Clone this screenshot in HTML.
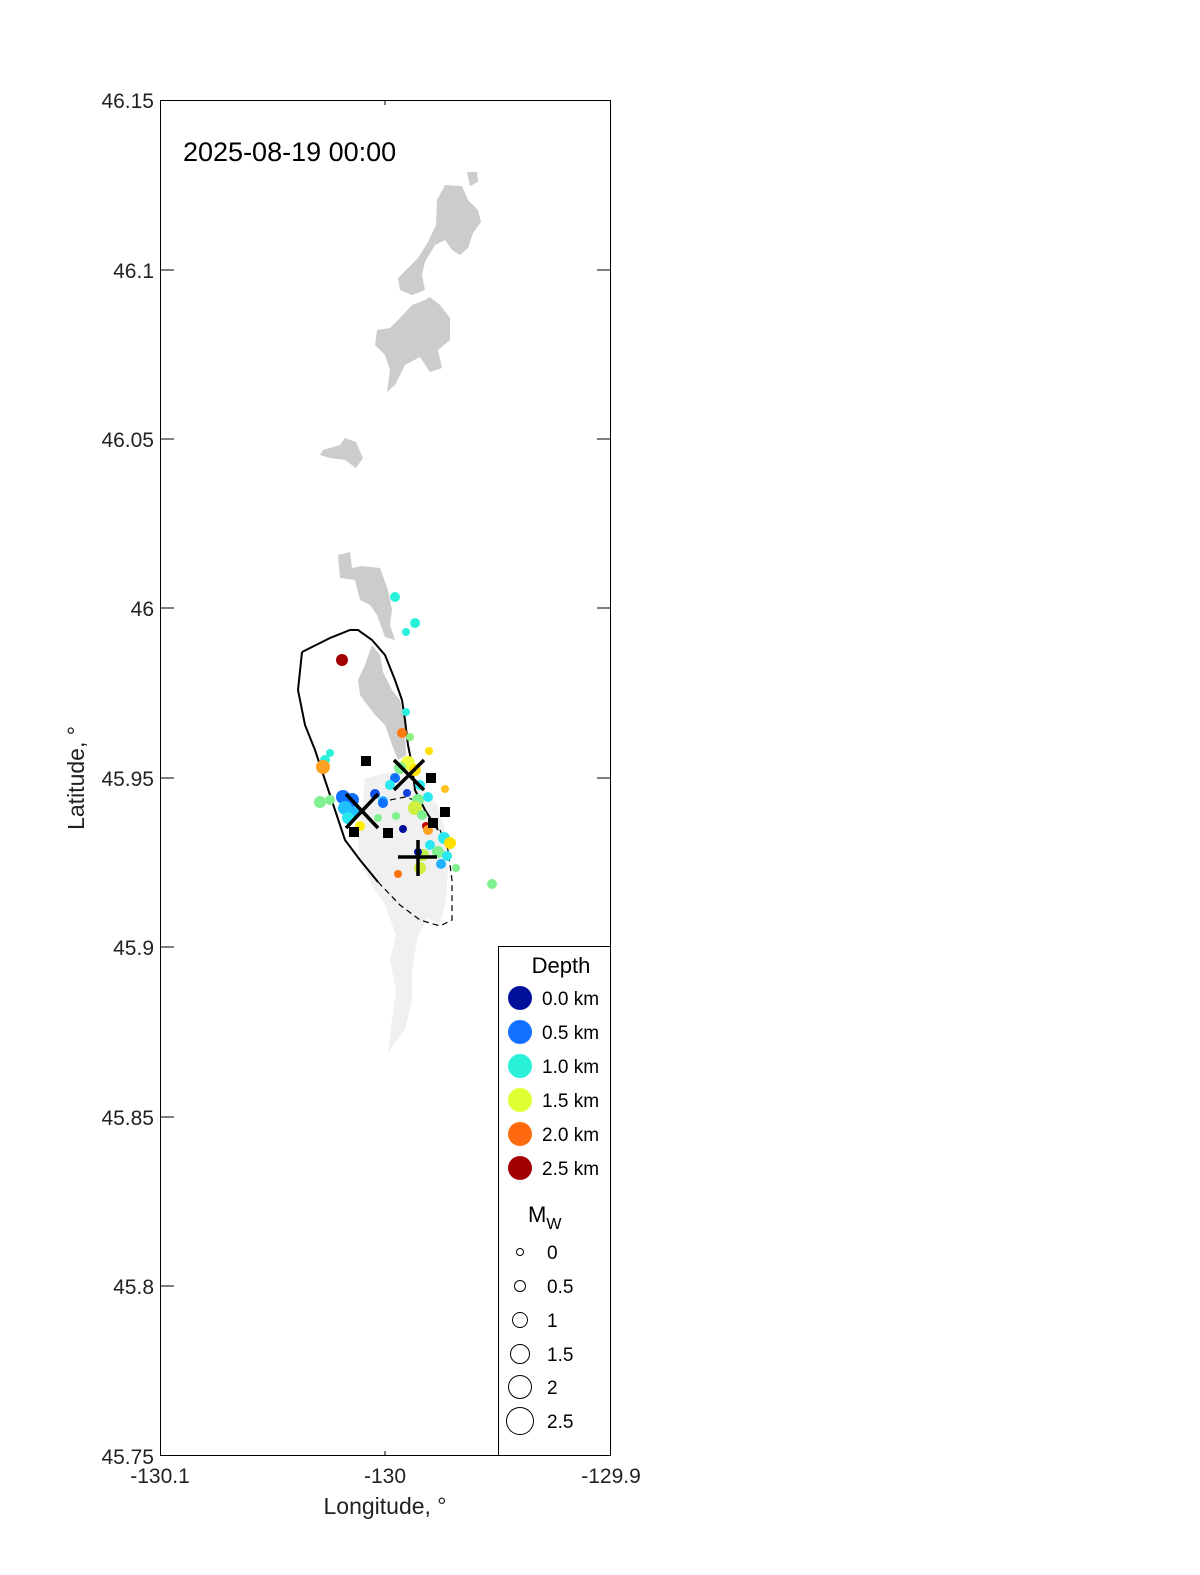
<!DOCTYPE html>
<html><head><style>body{margin:0;background:#fff}svg{display:block}text{font-family:"Liberation Sans",sans-serif}</style></head><body>
<svg width="1200" height="1575" viewBox="0 0 1200 1575" xmlns="http://www.w3.org/2000/svg">
<rect width="1200" height="1575" fill="#fff"/>
<g fill="#f0f0f0">
<path d="M365,778 L392,772 L420,785 L438,805 L445,830 L448,868 L446,900 L440,925 L428,918 L418,935 L412,970 L412,1000 L405,1030 L388,1052 L392,1020 L396,990 L390,960 L396,935 L385,905 L372,885 L360,862 L358,835 L362,808 Z"/>
</g>
<g fill="#cccccc">
<path d="M467,172 L477,172 L478,182 L470,186 Z"/>
<path d="M445,185 L462,186 L468,200 L478,210 L481,222 L473,233 L468,248 L460,255 L452,250 L445,240 L435,245 L425,262 L422,275 L425,290 L412,295 L400,290 L398,278 L408,268 L418,258 L428,242 L436,225 L437,200 Z"/>
<path d="M430,297 L440,305 L450,318 L450,340 L438,350 L442,368 L430,372 L420,357 L405,365 L395,385 L387,392 L390,370 L385,355 L375,345 L377,330 L390,328 L400,318 L412,305 L425,300 Z"/>
<path d="M323,450 L340,445 L345,438 L356,442 L363,458 L356,468 L345,460 L330,458 L320,455 Z"/>
<path d="M338,555 L350,552 L352,568 L362,566 L380,568 L388,590 L392,610 L390,625 L395,640 L385,637 L377,615 L370,605 L360,600 L355,580 L340,578 Z"/>
<path d="M372,645 L380,655 L383,672 L392,690 L400,700 L405,725 L406,755 L398,760 L392,745 L385,725 L375,715 L360,695 L358,680 L365,665 Z"/>
</g>
<path d="M302,652 L330,638 L350,630 L358,630 L372,640 L385,655 L395,680 L402,700 L405,720 L408,745 L412,765 L415,790 L425,810 L438,830" fill="none" stroke="#000" stroke-width="2"/>
<path d="M302,652 L298,690 L305,725 L315,750 L325,780 L335,810 L345,840 L360,860 L378,882" fill="none" stroke="#000" stroke-width="2"/>
<path d="M378,882 L400,905 L420,920 L440,926 L452,920 L452,880 L448,850 L440,830 M390,800 L405,797 L420,802" fill="none" stroke="#000" stroke-width="1.2" stroke-dasharray="6,4"/>
<g>
<circle cx="395" cy="597" r="5" fill="#29f0d8"/>
<circle cx="415" cy="623" r="5" fill="#29f0d8"/>
<circle cx="406" cy="632" r="4" fill="#29f0d8"/>
<circle cx="342" cy="660" r="6" fill="#a00000"/>
<circle cx="406" cy="712" r="4" fill="#29f0d8"/>
<circle cx="402" cy="733" r="5" fill="#ff7a10"/>
<circle cx="410" cy="737" r="4" fill="#8ef080"/>
<circle cx="429" cy="751" r="4" fill="#ffe000"/>
<circle cx="330" cy="753" r="4" fill="#29f0d8"/>
<circle cx="325" cy="760" r="5" fill="#29f0d8"/>
<circle cx="323" cy="767" r="7" fill="#ffa020"/>
<circle cx="408" cy="763" r="7" fill="#f0ff40"/>
<circle cx="400" cy="768" r="6" fill="#80f090"/>
<circle cx="415" cy="770" r="6" fill="#ffe000"/>
<circle cx="395" cy="778" r="5" fill="#1070ff"/>
<circle cx="390" cy="785" r="5" fill="#29e8f0"/>
<circle cx="420" cy="785" r="5" fill="#29e8f0"/>
<circle cx="445" cy="789" r="4" fill="#ffc020"/>
<circle cx="407" cy="793" r="4" fill="#1040e0"/>
<circle cx="383" cy="801" r="5" fill="#20c0ff"/>
<circle cx="418" cy="800" r="6" fill="#80f090"/>
<circle cx="428" cy="797" r="5" fill="#29e8f0"/>
<circle cx="320" cy="802" r="6" fill="#80f090"/>
<circle cx="330" cy="800" r="5" fill="#80f090"/>
<circle cx="343" cy="797" r="7" fill="#1070ff"/>
<circle cx="352" cy="800" r="7" fill="#1070ff"/>
<circle cx="345" cy="808" r="7" fill="#20c0ff"/>
<circle cx="355" cy="812" r="6" fill="#20c0ff"/>
<circle cx="348" cy="818" r="6" fill="#29e8f0"/>
<circle cx="375" cy="794" r="5" fill="#1050f0"/>
<circle cx="383" cy="803" r="5" fill="#1070ff"/>
<circle cx="415" cy="808" r="7" fill="#d0f040"/>
<circle cx="422" cy="815" r="5" fill="#80f090"/>
<circle cx="433" cy="823" r="4" fill="#29e8f0"/>
<circle cx="396" cy="816" r="4" fill="#80f090"/>
<circle cx="378" cy="818" r="4" fill="#80f090"/>
<circle cx="360" cy="826" r="5" fill="#ffee00"/>
<circle cx="403" cy="829" r="4" fill="#00109a"/>
<circle cx="426" cy="826" r="4" fill="#c00000"/>
<circle cx="428" cy="830" r="5" fill="#ffa020"/>
<circle cx="444" cy="838" r="6" fill="#29e8f0"/>
<circle cx="450" cy="843" r="6" fill="#ffe000"/>
<circle cx="430" cy="845" r="5" fill="#29e8f0"/>
<circle cx="438" cy="852" r="6" fill="#80f090"/>
<circle cx="447" cy="856" r="5" fill="#29e8f0"/>
<circle cx="423" cy="855" r="6" fill="#c0f040"/>
<circle cx="418" cy="852" r="4" fill="#00109a"/>
<circle cx="420" cy="868" r="6" fill="#d0f040"/>
<circle cx="441" cy="864" r="5" fill="#20b0ff"/>
<circle cx="456" cy="868" r="4" fill="#80f090"/>
<circle cx="398" cy="874" r="4" fill="#ff7010"/>
<circle cx="492" cy="884" r="5" fill="#80f090"/>
</g>
<g fill="#000">
<rect x="361" y="756" width="10" height="10"/>
<rect x="426" y="773" width="10" height="10"/>
<rect x="440" y="807" width="10" height="10"/>
<rect x="383" y="828" width="10" height="10"/>
<rect x="349" y="827" width="10" height="10"/>
<rect x="428" y="818" width="10" height="10"/>
</g>
<g stroke="#000" stroke-width="3.5">
<path d="M346,794 L378,828 M378,794 L346,828"/>
<path d="M394,760 L424,790 M424,760 L394,790"/>
<path d="M398,857 L437,857 M418,840 L418,876"/>
</g>
<rect x="160.5" y="100.5" width="450" height="1355" fill="none" stroke="#000" stroke-width="1"/>
<g stroke="#000" stroke-width="1">
<path d="M160,270 h14 M160,439 h14 M160,608 h14 M160,778 h14 M160,947 h14 M160,1117 h14 M160,1286 h14"/>
<path d="M611,270 h-14 M611,439 h-14 M611,608 h-14 M611,778 h-14 M611,947 h-14 M611,1117 h-14 M611,1286 h-14"/>
<path d="M385,1456 v-5 M385,100 v5"/>
</g>
<g font-size="21" fill="#222" text-anchor="end">
<text x="154" y="108">46.15</text>
<text x="154" y="278">46.1</text>
<text x="154" y="447">46.05</text>
<text x="154" y="616">46</text>
<text x="154" y="786">45.95</text>
<text x="154" y="955">45.9</text>
<text x="154" y="1125">45.85</text>
<text x="154" y="1294">45.8</text>
<text x="154" y="1464">45.75</text>
</g>
<g font-size="21" fill="#222" text-anchor="middle">
<text x="160" y="1483">-130.1</text>
<text x="385" y="1483">-130</text>
<text x="611" y="1483">-129.9</text>
<text x="385" y="1514" font-size="23">Longitude, °</text>
</g>
<text transform="translate(84,778) rotate(-90)" font-size="23" fill="#222" text-anchor="middle">Latitude, °</text>
<text x="183" y="161" font-size="27" fill="#000">2025-08-19 00:00</text>
<rect x="498.5" y="946.5" width="112" height="509" fill="#fff" stroke="#000" stroke-width="1"/>
<text x="561" y="973" font-size="22" text-anchor="middle">Depth</text>
<g font-size="19">
<circle cx="520" cy="998" r="12" fill="#00109a"/><text x="542" y="1005">0.0 km</text>
<circle cx="520" cy="1032" r="12" fill="#1070ff"/><text x="542" y="1039">0.5 km</text>
<circle cx="520" cy="1066" r="12" fill="#29f0d8"/><text x="542" y="1073">1.0 km</text>
<circle cx="520" cy="1100" r="12" fill="#e0ff30"/><text x="542" y="1107">1.5 km</text>
<circle cx="520" cy="1134" r="12" fill="#ff6a10"/><text x="542" y="1141">2.0 km</text>
<circle cx="520" cy="1168" r="12" fill="#a00000"/><text x="542" y="1175">2.5 km</text>
</g>
<text x="528" y="1222" font-size="22">M<tspan font-size="16" dy="7">W</tspan></text>
<g fill="none" stroke="#000" stroke-width="1">
<circle cx="520" cy="1252" r="3.5"/><circle cx="520" cy="1286" r="5.5"/><circle cx="520" cy="1320" r="7.5"/>
<circle cx="520" cy="1354" r="9.5"/><circle cx="520" cy="1387" r="11.5"/><circle cx="520" cy="1421" r="13.5"/>
</g>
<g font-size="19">
<text x="547" y="1259">0</text><text x="547" y="1293">0.5</text><text x="547" y="1327">1</text>
<text x="547" y="1361">1.5</text><text x="547" y="1394">2</text><text x="547" y="1428">2.5</text>
</g>
</svg>
</body></html>
